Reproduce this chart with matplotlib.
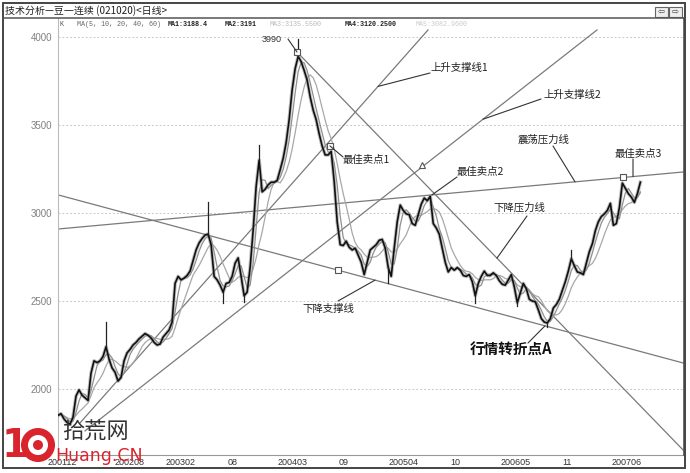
import numpy as np
import pandas as pd
import matplotlib
matplotlib.use('Agg')
import matplotlib.pyplot as plt
from matplotlib.patches import Rectangle, Circle, ConnectionPatch

# ---------------- data ----------------
start_month = 0.66   # months after 2001-11-01 of the first sample
step_month = 0.35    # spacing between samples, in months

close = [
    1850, 1860, 1830, 1810, 1800, 1840, 1960, 1995, 1965, 1950,
    1935, 2090, 2160, 2150, 2160, 2185, 2240, 2170, 2120, 2095,
    2045, 2065, 2160, 2205, 2225, 2250, 2265, 2285, 2300, 2315,
    2305, 2290, 2265, 2250, 2255, 2295, 2315, 2335, 2380, 2600,
    2640, 2620, 2630, 2645, 2670, 2730, 2790, 2830, 2855, 2875,
    2880, 2820, 2640, 2620, 2590, 2550, 2600, 2605, 2640, 2715,
    2745, 2640, 2530, 2550, 2690, 2900, 3150, 3300, 3120, 3135,
    3160, 3175, 3175, 3185, 3245, 3310, 3400, 3530, 3700, 3820,
    3890, 3860, 3810, 3755, 3660, 3585, 3530, 3450, 3380, 3330,
    3330, 3350, 3180, 2950, 2820, 2815, 2840, 2805, 2790, 2800,
    2760, 2720, 2650, 2720, 2790, 2805, 2820, 2845, 2850, 2800,
    2690, 2640, 2800, 2950, 3045, 3015, 2995, 2990, 2940, 2930,
    2990, 3050, 3085, 3070, 3095, 2940, 2915, 2880, 2800, 2720,
    2665, 2690, 2675, 2690, 2675, 2645, 2640, 2650, 2610, 2530,
    2600, 2640, 2670, 2645, 2645, 2660, 2645, 2615, 2595, 2590,
    2620, 2650, 2580, 2490, 2545, 2600, 2570, 2510, 2500, 2495,
    2450, 2400, 2380, 2375, 2400, 2460, 2480, 2510, 2560, 2610,
    2670, 2740, 2700, 2665, 2660, 2650, 2715, 2780, 2825, 2900,
    2950, 2980, 2995, 3015, 3055, 2930, 2940, 3030, 3170, 3140,
    3110, 3090, 3060, 3110, 3175,
]

spike_idx = [16, 50, 55, 62, 67, 80, 110, 139, 153, 163, 171]
spike_val = [2380, 3060, 2490, 2495, 3385, 3990, 2600, 2490, 2470, 2350, 2790]

tick_months = [1.2, 9, 15, 21, 28, 34, 41, 47, 54, 60, 67]
tick_labels = ['200112', '200208', '200302', '08', '200403', '09',
               '200504', '10', '200605', '11', '200706']
y_ticks = [2000, 2500, 3000, 3500, 4000]

# trend lines (month, price) end points
up1_m, up1_p = [3.22, 43.80], [1807, 4040]
up2_m, up2_p = [3.81, 63.50], [1762, 4040]
osc_m, osc_p = [0.66, 73.53], [2909, 3233]
dsup_m, dsup_p = [0.66, 73.53], [3103, 2148]
dres_m, dres_p = [28.52, 73.53], [3915, 1654]

box_m = [28.52, 32.37, 33.30, 66.53]
box_p = [3915, 3381, 2676, 3205]
tri_m, tri_p = [43.10], [3273]

# ---------------- figure ----------------
W, H = 690, 473
fig = plt.figure(figsize=(W / 100, H / 100), dpi=100)
fig.patch.set_facecolor('white')

ax = fig.add_axes([58 / W, 1 - 455 / H, 626 / W, 437 / H])
ax.set_xlim(0.659, 73.645)
ax.set_ylim(1625, 4108)
for s in ['top', 'right']:
    ax.spines[s].set_visible(False)
ax.spines['left'].set_color('#bbbbbb')
ax.spines['left'].set_linewidth(0.8)
ax.spines['bottom'].set_color('#999999')
ax.spines['bottom'].set_linewidth(0.8)

ax.set_yticks(y_ticks)
ax.set_yticklabels([str(v) for v in y_ticks], fontsize=7, color='#808080',
                   family='Liberation Sans')
ax.tick_params(axis='y', length=0, pad=4)
ax.set_xticks(tick_months)
ax.set_xticklabels(tick_labels, fontsize=6.5, color='#333333', family='Liberation Sans')
ax.tick_params(axis='x', length=0, pad=2)
for v in y_ticks:
    ax.axhline(v, color='#c8c8c8', lw=0.7, ls=(0, (2, 2)), zorder=0)

x = start_month + step_month * np.arange(len(close))
s = pd.Series(close, dtype=float)
ma_a = s.rolling(3, min_periods=1).mean()
ma_b = s.rolling(7, min_periods=1).mean()

# trend lines
for lm, lp in [(up1_m, up1_p), (up2_m, up2_p), (osc_m, osc_p), (dsup_m, dsup_p), (dres_m, dres_p)]:
    ax.plot(lm, lp, color='#7a7a7a', lw=0.9, zorder=2)

ax.plot(x, ma_b, color='#a8a8a8', lw=0.9, zorder=3)
ax.plot(x, ma_a, color='#909090', lw=0.9, zorder=3)
ax.plot(x, close, color='#8c8c8c', lw=2.6, alpha=0.55, zorder=4)
ax.plot(x, close, color='#111111', lw=1.2, zorder=5)
for i, v in zip(spike_idx, spike_val):
    ax.plot([x[i], x[i]], [close[i], v], color='#222222', lw=0.9, zorder=5)

ax.plot(box_m, box_p, ls='none', marker='s', ms=4, mfc='white', mec='#555555', mew=0.8, zorder=6)
ax.plot(tri_m, tri_p, ls='none', marker='^', ms=4, mfc='white', mec='#555555', mew=0.8, zorder=6)

# ---------------- overlay (chrome, labels) ----------------
ov = fig.add_axes([0, 0, 1, 1])
ov.set_xlim(0, W)
ov.set_ylim(H, 0)
ov.axis('off')
ov.patch.set_alpha(0)
ov.set_zorder(10)

cjk = ['Noto Sans CJK SC', 'DejaVu Sans']

# frame
ov.add_patch(Rectangle((3, 3), 682, 465, fill=False, ec='#444444', lw=1.4))
ov.plot([3, 685], [18, 18], color='#555555', lw=1.1)
ov.plot([684, 684], [18, 455], color='#444444', lw=1.1)
ov.text(5, 10.5, '技术分析—豆一连续 (021020)<日线>', fontsize=7.2, family=cjk,
        color='#222222', va='center', ha='left')
for bx, sym in [(655, '⇦'), (669, '⇨')]:
    ov.add_patch(Rectangle((bx, 7), 13, 10, fc='#eeeeee', ec='#666666', lw=0.8))
    ov.text(bx + 6.5, 12, sym, fontsize=6, ha='center', va='center', color='#444444')

# header
hdr = [(60, 'K', '#555555', 'normal'),
       (77, 'MA(5, 10, 20, 40, 60)', '#666666', 'normal'),
       (168, 'MA1:3188.4', '#222222', 'bold'),
       (225, 'MA2:3191', '#222222', 'bold'),
       (270, 'MA3:3135.5500', '#bbbbbb', 'normal'),
       (345, 'MA4:3120.2500', '#222222', 'bold'),
       (416, 'MA5:3082.9600', '#cccccc', 'normal')]
for hx, t, c, w in hdr:
    ov.text(hx, 25, t, fontsize=4.9, family='Liberation Mono', color=c, weight=w,
            va='center', ha='left')

# annotation labels
labels = [(430, 68, '上升支撑线1'), (543, 95, '上升支撑线2'), (518, 140, '震荡压力线'),
          (343, 160, '最佳卖点1'), (457, 172, '最佳卖点2'), (615, 154, '最佳卖点3'),
          (493, 208, '下降压力线'), (302, 309, '下降支撑线')]
for lx, ly, t in labels:
    ov.text(lx, ly, t, fontsize=7.5, family=cjk, color='#222222', va='center', ha='left')
ov.text(470, 350, '行情转折点A', fontsize=10.5, family=cjk, weight='bold',
        color='#111111', va='center', ha='left')
ov.text(262, 39, '3990', fontsize=6.5, family='Liberation Sans', color='#333333',
        va='center', ha='left')


def leader(px, py, m, p):
    cp = ConnectionPatch(xyA=(px, py), coordsA=ov.transData, xyB=(m, p),
                         coordsB=ax.transData, color='#333333', lw=0.8)
    fig.add_artist(cp)


def on_line(lm, lp, m):
    return m, float(np.interp(m, lm, lp))


leader(430, 73, *on_line(up1_m, up1_p, 37.97))
leader(541, 99, *on_line(up2_m, up2_p, 50.21))
leader(553, 146, *on_line(osc_m, osc_p, 60.94))
leader(343, 157, box_m[1], box_p[1])
leader(457, 177, *on_line(osc_m, osc_p, 44.26))
leader(633, 159, *on_line(osc_m, osc_p, 67.70))
leader(527, 216, *on_line(dres_m, dres_p, 51.84))
leader(338, 301, *on_line(dsup_m, dsup_p, 37.62))
leader(528, 343, *on_line(dsup_m, dsup_p, 57.44))
leader(288, 39, box_m[0], box_p[0])

# watermark
red = '#d9232d'
ov.text(15, 446, '1', fontsize=28, weight='bold', color=red, ha='center', va='center',
        family='DejaVu Sans')
ov.add_patch(Circle((38, 445), 17, fc=red, ec='none'))
ov.add_patch(Circle((38, 445), 10, fc='white', ec='none'))
ov.add_patch(Circle((38, 445), 5, fc=red, ec='none'))
ov.text(62, 432, '拾荒网', fontsize=16, family=cjk, color='#333333', ha='left', va='center')
ov.text(55, 456, 'Huang.CN', fontsize=12.5, family='DejaVu Sans', color=red,
        ha='left', va='center')

fig.savefig('out.png', dpi=100)
